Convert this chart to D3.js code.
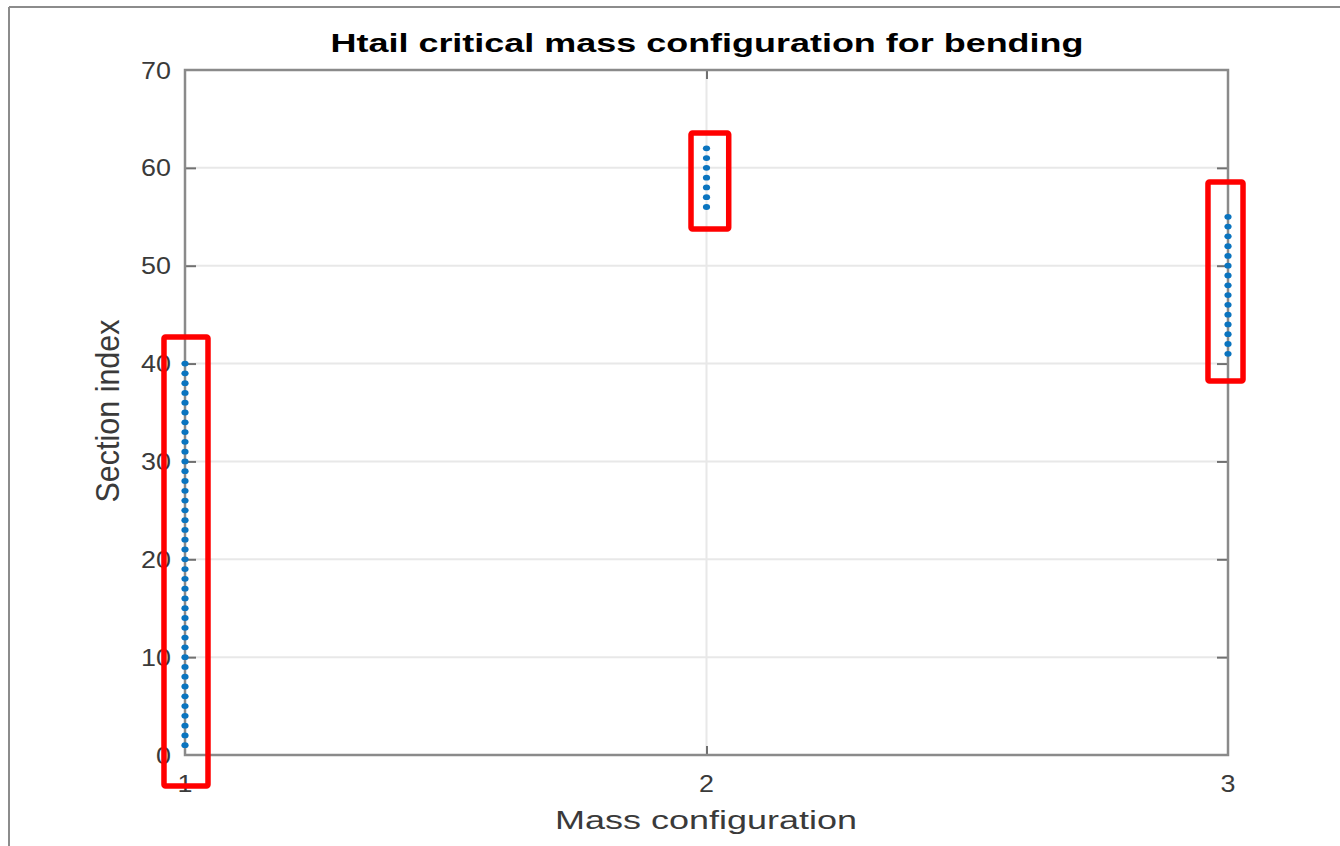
<!DOCTYPE html>
<html>
<head>
<meta charset="utf-8">
<script src="https://cdn.jsdelivr.net/npm/d3@7"></script>
<style>
  html, body { margin: 0; padding: 0; background: #fff; }
  svg { display: block; }
  text { font-family: "Liberation Sans", Arial, sans-serif; }
</style>
</head>
<body>
<svg id="chart" width="1340" height="846"></svg>
<script>
// ---- data ----
const chartTitle = "Htail critical mass configuration for bending";
const xLabel = "Mass configuration";
const yLabel = "Section index";
const xTicks = [1, 2, 3];
const yTicks = [0, 10, 20, 30, 40, 50, 60, 70];
// section indices for which each mass configuration is critical
const config1Sections = [1,2,3,4,5,6,7,8,9,10,11,12,13,14,15,16,17,18,19,20,21,22,23,24,25,26,27,28,29,30,31,32,33,34,35,36,37,38,39,40];
const config2Sections = [56,57,58,59,60,61,62];
const config3Sections = [41,42,43,44,45,46,47,48,49,50,51,52,53,54,55];
// highlight boxes (data units): [xMin, xMax, yMin, yMax]
const highlightBoxes = [
  [0.9597, 1.0441, -3.17, 42.71],
  [1.9703, 2.0426, 53.75, 63.56],
  [2.9616, 3.0288, 38.22, 58.55]
];

// ---- layout ----
const svg = d3.select("#chart");
const L = 185, R = 1228, T = 70, B = 755;
const x = d3.scaleLinear().domain([1, 3]).range([L, R]);
const y = d3.scaleLinear().domain([0, 70]).range([B, T]);

const points = [];
config1Sections.forEach(s => points.push({c: 1, s}));
config2Sections.forEach(s => points.push({c: 2, s}));
config3Sections.forEach(s => points.push({c: 3, s}));

// outer figure frame (top & left edges visible)
svg.append("line").attr("x1", 9).attr("x2", 1340).attr("y1", 7).attr("y2", 7)
  .attr("stroke", "#8c8c8c").attr("stroke-width", 2);
svg.append("line").attr("x1", 9).attr("x2", 9).attr("y1", 7).attr("y2", 846)
  .attr("stroke", "#8c8c8c").attr("stroke-width", 2);

// grid
const grid = svg.append("g");
grid.selectAll("line.gy").data(yTicks.filter(t => t > 0 && t < 70)).join("line")
  .attr("x1", L).attr("x2", R).attr("y1", d => y(d)).attr("y2", d => y(d))
  .attr("stroke", "#e8e8e8").attr("stroke-width", 2);
grid.selectAll("line.gx").data(xTicks.filter(t => t > 1 && t < 3)).join("line")
  .attr("x1", d => x(d)).attr("x2", d => x(d)).attr("y1", T).attr("y2", B)
  .attr("stroke", "#e8e8e8").attr("stroke-width", 2);

// axes (box with inward ticks)
const tickLen = 11;
function styleAxis(g) {
  g.select(".domain").remove();
  g.selectAll(".tick line").attr("stroke", "#707070").attr("stroke-width", 2);
  g.selectAll(".tick text").attr("fill", "#3a3a3a").attr("font-size", 24);
}
const yAxisL = svg.append("g").attr("transform", `translate(${L},0)`)
  .call(d3.axisRight(y).tickValues(yTicks).tickSize(tickLen).tickFormat(""));
styleAxis(yAxisL);
yAxisL.selectAll(".tick").filter(d => d === 0 || d === 70).select("line").remove();
const yAxisR = svg.append("g").attr("transform", `translate(${R},0)`)
  .call(d3.axisLeft(y).tickValues(yTicks).tickSize(tickLen).tickFormat(""));
styleAxis(yAxisR);
yAxisR.selectAll(".tick").filter(d => d === 0 || d === 70).select("line").remove();
const xAxisB = svg.append("g").attr("transform", `translate(0,${B})`)
  .call(d3.axisTop(x).tickValues(xTicks).tickSize(9).tickFormat(""));
styleAxis(xAxisB);
xAxisB.selectAll(".tick").filter(d => d === 1 || d === 3).select("line").remove();
const xAxisT = svg.append("g").attr("transform", `translate(0,${T})`)
  .call(d3.axisBottom(x).tickValues(xTicks).tickSize(9).tickFormat(""));
styleAxis(xAxisT);
xAxisT.selectAll(".tick").filter(d => d === 1 || d === 3).select("line").remove();

// tick labels
svg.append("g").selectAll("text").data(yTicks).join("text")
  .attr("x", L - 14).attr("y", d => y(d)).attr("dy", "0.36em")
  .attr("text-anchor", "end").attr("font-size", 24).attr("fill", "#3a3a3a")
  .attr("transform", d => `translate(${L - 14},${y(d)}) scale(1.12,1) translate(${-(L - 14)},${-y(d)})`)
  .text(d => d);
svg.append("g").selectAll("text").data(xTicks).join("text")
  .attr("x", d => x(d)).attr("y", 792)
  .attr("text-anchor", "middle").attr("font-size", 24).attr("fill", "#3a3a3a")
  .attr("transform", d => `translate(${x(d)},0) scale(1.12,1) translate(${-x(d)},0)`)
  .text(d => d);

// box outline
svg.append("rect").attr("x", L).attr("y", T).attr("width", R - L).attr("height", B - T)
  .attr("fill", "none").attr("stroke", "#8a8a8a").attr("stroke-width", 2.5);

// points
svg.append("g").selectAll("ellipse").data(points).join("ellipse")
  .attr("cx", d => x(d.c)).attr("cy", d => y(d.s))
  .attr("rx", 3.6).attr("ry", 2.9)
  .attr("fill", "#0a74bf");

// highlight boxes
svg.append("g").selectAll("rect").data(highlightBoxes).join("rect")
  .attr("x", d => x(d[0])).attr("y", d => y(d[3]))
  .attr("width", d => x(d[1]) - x(d[0])).attr("height", d => y(d[2]) - y(d[3]))
  .attr("rx", 1.5)
  .attr("fill", "none").attr("stroke", "#ff0000").attr("stroke-width", 5.5);

// title & labels
svg.append("text").attr("x", 707).attr("y", 52).attr("text-anchor", "middle")
  .attr("font-size", 26).attr("font-weight", "bold").attr("fill", "#000")
  .attr("textLength", 753).attr("lengthAdjust", "spacingAndGlyphs")
  .text(chartTitle);
svg.append("text").attr("x", 706).attr("y", 829).attr("text-anchor", "middle")
  .attr("font-size", 26).attr("fill", "#3a3a3a")
  .attr("textLength", 302).attr("lengthAdjust", "spacingAndGlyphs")
  .text(xLabel);
svg.append("text").attr("transform", "translate(119,411) rotate(-90) scale(1,1.2)")
  .attr("text-anchor", "middle").attr("font-size", 28).attr("fill", "#3a3a3a")
  .attr("textLength", 183).attr("lengthAdjust", "spacingAndGlyphs")
  .text(yLabel);
</script>
</body>
</html>
